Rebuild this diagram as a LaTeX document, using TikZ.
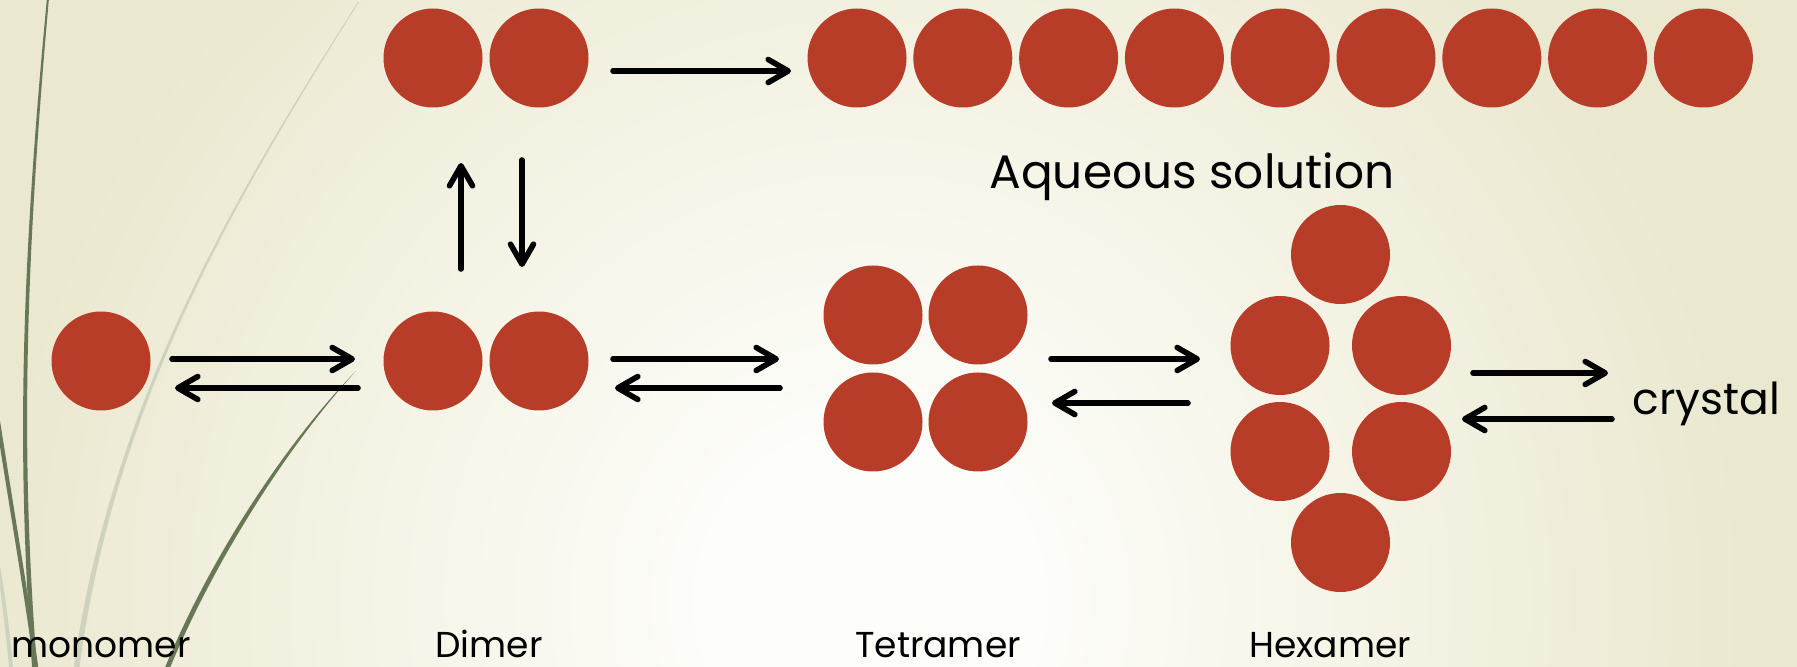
\documentclass[tikz,border=0pt]{standalone}
\usepackage{fontspec}
\setmainfont{Poppins}
\usetikzlibrary{arrows.meta}

\definecolor{ballred}{RGB}{183,61,40}
\definecolor{bgcore}{RGB}{253,253,250}
\definecolor{bgmid}{RGB}{245,244,231}
\definecolor{bgedge}{RGB}{235,232,208}
\definecolor{bladedark}{RGB}{104,120,86}
\definecolor{bladepale}{RGB}{206,211,191}

% soft cream background, lightest near the lower middle
\pgfdeclareradialshading{wispbg}{\pgfpoint{0bp}{0bp}}{%
  color(0bp)=(bgcore); color(4bp)=(bgcore); color(12bp)=(bgmid);
  color(22bp)=(bgedge); color(50bp)=(bgedge)}

\tikzset{
  ball/.style={circle, fill=ballred, minimum size=49.5pt, inner sep=0pt, outer sep=0pt},
  eqarrow/.style={line width=2.8pt, line cap=round,
    -{Straight Barb[length=10pt, width=11.5pt, round]}},
  lbl/.style={font=\fontsize{18}{20}\selectfont, anchor=base, inner sep=0pt},
  bigtext/.style={inner sep=0pt},
}

\begin{document}
\begin{tikzpicture}[x=0.5pt, y=-0.5pt]
\useasboundingbox (0,0) rectangle (1797,667);

\begin{scope}
  \clip (0,0) rectangle (1797,667);
  \shade[shading=wispbg] (-130,-400) rectangle (1870,1600);

  % grass blades along the left edge
  \fill[bladepale] (-4,560) .. controls (2,600) and (7,640) .. (10,680)
                   -- (14,680) .. controls (11,640) and (6,600) .. (-1,560) -- cycle;
  \fill[bladepale] (358,2) .. controls (245,180) and (108,400) .. (72,680)
                   -- (78,680) .. controls (111,400) and (247,181) .. (359,2) -- cycle;
  \fill[bladedark] (47,-2) .. controls (18,300) and (18,480) .. (33,680)
                   -- (38,680) .. controls (22,480) and (22,300) .. (49,-2) -- cycle;
  \draw[bladedark, line width=2pt] (-6,395) .. controls (10,500) and (26,590) .. (38,680);
  \fill[bladedark] (356,371) .. controls (288,440) and (207,560) .. (160,680)
                   -- (165,680) .. controls (212,562) and (291,442) .. (356,371) -- cycle;
\end{scope}

% top row: dimer and the long chain
\node[ball] (td1) at (433,58) {};
\node[ball] (td2) at (539,58) {};
\foreach \i in {0,...,8}
  \node[ball] (c\i) at ({857+105.8*\i},58) {};

% monomer
\node[ball] (m1) at (101,361) {};

% dimer
\node[ball] (d1) at (433,361) {};
\node[ball] (d2) at (539,361) {};

% tetramer
\node[ball] (t1) at (873,315) {};
\node[ball] (t2) at (978,315) {};
\node[ball] (t3) at (873,422) {};
\node[ball] (t4) at (978,422) {};

% hexamer
\node[ball] (h1) at (1340.5,254.5) {};
\node[ball] (h2) at (1280,345.5) {};
\node[ball] (h3) at (1401.5,345.5) {};
\node[ball] (h4) at (1280,451.5) {};
\node[ball] (h5) at (1401.5,451.5) {};
\node[ball] (h6) at (1340.5,542.5) {};

% arrow end points
\coordinate (topS) at (613,71);   \coordinate (topE) at (791,71);
\coordinate (upS) at (461,269);   \coordinate (upE) at (461,163);
\coordinate (dnS) at (522,160);   \coordinate (dnE) at (522,267);
\coordinate (mdfS) at (172,359);  \coordinate (mdfE) at (355,359);
\coordinate (mdbS) at (358,388);  \coordinate (mdbE) at (175,388);
\coordinate (dtfS) at (613,359);  \coordinate (dtfE) at (779,359);
\coordinate (dtbS) at (780,388);  \coordinate (dtbE) at (615,388);
\coordinate (thfS) at (1051,359); \coordinate (thfE) at (1200,359);
\coordinate (thbS) at (1188,403); \coordinate (thbE) at (1052,403);
\coordinate (hcfS) at (1473,373); \coordinate (hcfE) at (1608,373);
\coordinate (hcbS) at (1612,419); \coordinate (hcbE) at (1462,419);

\draw[eqarrow] (topS) -- (topE);
\draw[eqarrow] (upS) -- (upE);
\draw[eqarrow] (dnS) -- (dnE);
\draw[eqarrow] (mdfS) -- (mdfE);
\draw[eqarrow] (mdbS) -- (mdbE);
\draw[eqarrow] (dtfS) -- (dtfE);
\draw[eqarrow] (dtbS) -- (dtbE);
\draw[eqarrow] (thfS) -- (thfE);
\draw[eqarrow] (thbS) -- (thbE);
\draw[eqarrow] (hcfS) -- (hcfE);
\draw[eqarrow] (hcbS) -- (hcbE);

% texts
\node[bigtext, anchor=base, font=\fontsize{23.5}{27}\selectfont] (aq) at (1192,189) {Aqueous solution};
\node[bigtext, anchor=base west, font=\fontsize{22}{26}\selectfont] (cr) at (1632,415) {crystal};
\node[lbl] (lm) at (101,657) {monomer};
\node[lbl] (ld) at (489,657) {Dimer};
\node[lbl] (lt) at (938,657) {Tetramer};
\node[lbl] (lh) at (1330,657) {Hexamer};
\end{tikzpicture}
\end{document}
